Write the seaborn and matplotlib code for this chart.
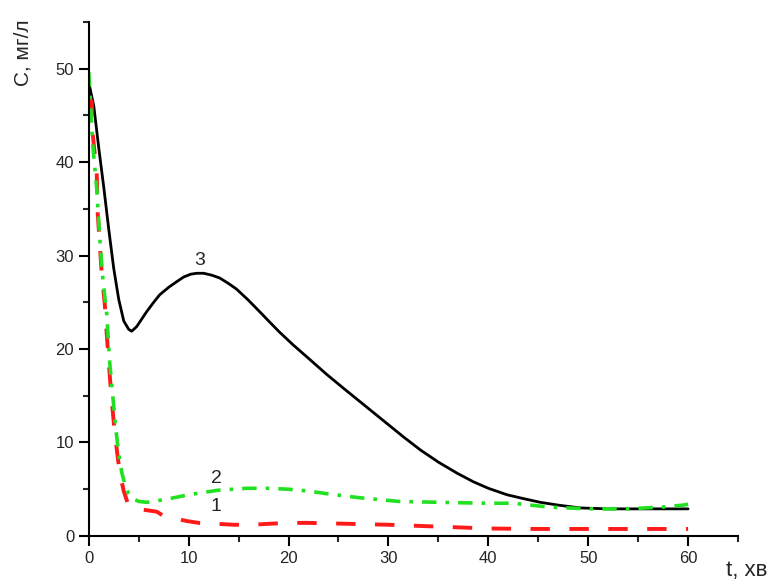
import numpy as np
import pandas as pd
import seaborn as sns
import matplotlib.pyplot as plt
from matplotlib.ticker import MultipleLocator

# curve 1 (red, dashed)
t1 = [0, 0.3, 0.4, 0.8, 0.9, 1.3, 1.6, 1.8, 2.0, 2.3, 2.6, 3.1, 3.5, 3.9, 4.4, 5.5, 6.8, 7.4, 8.5,
      9.8, 11, 12.8, 14.5, 16.4, 18, 19.8, 22, 26, 30, 35, 40, 45, 50, 55, 60]
c1 = [47, 46.4, 43, 38.6, 34.4, 28, 24.8, 21.6, 18.5, 14.5, 11, 6.7, 4.8, 3.5, 3.0, 2.8, 2.6, 2.2, 1.9,
      1.6, 1.4, 1.3, 1.2, 1.2, 1.3, 1.4, 1.4, 1.3, 1.2, 1.0, 0.8, 0.75, 0.75, 0.75, 0.75]

# curve 2 (green, dash-dot)
t2 = [0, 0.4, 0.8, 1.1, 1.4, 1.8, 2.1, 2.4, 2.7, 3.0, 3.3, 3.7, 4.0, 4.4, 5, 5.8, 7, 8.1, 9.5, 11.1,
      13, 15.8, 18, 20, 22, 24, 27, 31, 35, 40, 42.5, 46, 50, 54, 57.5, 59.5, 60]
c2 = [49.6, 41.8, 37.1, 31.8, 27.6, 23.7, 18.5, 15, 11.5, 8.8, 6.8, 5.2, 4.5, 4.0, 3.7, 3.6, 3.8, 4.0, 4.3, 4.6,
      4.9, 5.1, 5.1, 5.0, 4.8, 4.5, 4.1, 3.7, 3.6, 3.5, 3.5, 3.1, 2.9, 2.9, 3.1, 3.3, 3.4]

# curve 3 (black, solid)
t3 = [0, 0.5, 1, 1.5, 2, 2.5, 3, 3.5, 4, 4.3, 4.8, 5.3, 5.8, 6.5, 7.1, 8, 8.8, 9.5, 10.2, 10.8, 11.5,
      12.3, 13.1, 14, 14.8, 16, 17.1, 18, 19.1, 20.5, 22, 23.8, 25.5, 27, 28.5, 30, 31.5, 33.2, 35, 36.9,
      38.5, 40, 41.9, 43.5, 45.2, 47, 49.2, 52, 54.2, 57, 60]
c3 = [48.5, 46, 41.5, 37.3, 32.8, 28.6, 25.3, 23, 22.1, 21.9, 22.4, 23.2, 24, 25, 25.8, 26.6, 27.2, 27.7, 28, 28.1, 28.1,
      27.9, 27.6, 27, 26.4, 25.2, 24.0, 23, 21.8, 20.4, 19.0, 17.3, 15.8, 14.5, 13.2, 11.9, 10.6, 9.2, 7.9, 6.7,
      5.8, 5.1, 4.4, 4.0, 3.6, 3.3, 3.0, 2.9, 2.9, 2.9, 2.9]

curve_labels = ["1", "2", "3"]
label_pos = [(12.7, 2.2), (12.8, 5.2), (11.1, 28.6)]

sns.set_style("ticks")
plt.rcParams['font.family'] = ['Liberation Sans', 'DejaVu Sans']

fig = plt.figure(figsize=(7.72, 5.81), dpi=100)
ax = fig.add_axes([0.115, 0.0775, 0.841, 0.885])

sns.lineplot(x=t3, y=c3, ax=ax, color="black", lw=2.0, estimator=None)
sns.lineplot(x=t1, y=c1, ax=ax, color="#ff1a1a", lw=2.8, estimator=None)
ax.lines[-1].set_dashes([5, 5])
sns.lineplot(x=t2, y=c2, ax=ax, color="#22e022", lw=2.6, estimator=None)
ax.lines[-1].set_dashes([4, 2.5, 1, 2.5])

for lab, (x, y) in zip(curve_labels, label_pos):
    ax.text(x, y, lab, fontsize=14, ha="center", va="bottom")

ax.set_ylim(0, 55)
ax.xaxis.set_major_locator(MultipleLocator(10))
ax.xaxis.set_minor_locator(MultipleLocator(5))
ax.yaxis.set_major_locator(MultipleLocator(10))
ax.yaxis.set_minor_locator(MultipleLocator(5))
ax.set_xticks([0, 10, 20, 30, 40, 50, 60])
ax.tick_params(which="major", length=7, width=1.5, labelsize=12, color="black")
ax.tick_params(which="minor", length=4, width=1.5)
ax.set_xlim(0, 65)
for s in ["left", "bottom"]:
    ax.spines[s].set_linewidth(1.5)
    ax.spines[s].set_color("black")
sns.despine(ax=ax)

fig.text(0.03, 0.909, "С, мг/л", rotation=90, fontsize=15, ha="center", va="center")
fig.text(0.94, 0.018, "t, хв", fontsize=16, ha="left", va="center")

plt.savefig("out.png", dpi=100)
